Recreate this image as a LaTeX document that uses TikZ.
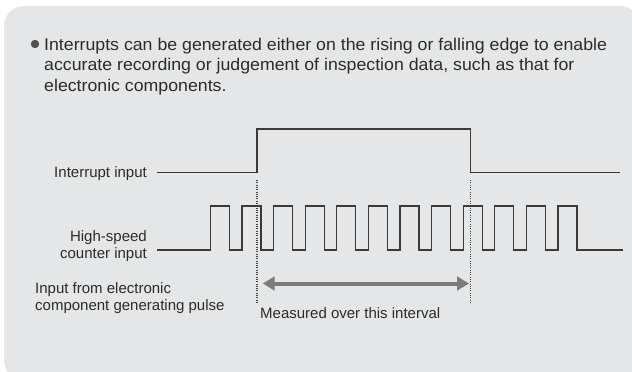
\documentclass[tikz,border=0pt]{standalone}
\usepackage{fontspec}
\setmainfont{Liberation Sans}
\usetikzlibrary{arrows.meta}
\definecolor{bgc}{HTML}{E5E6E7}
\definecolor{linec}{HTML}{3A3A3A}
\definecolor{txtc}{HTML}{2B2B2B}
\definecolor{arrc}{HTML}{7B7B7B}
\definecolor{bulc}{HTML}{505050}
\definecolor{dotc}{HTML}{444444}
\begin{document}
\begin{tikzpicture}[x=1pt,y=-1pt,
  bigtxt/.style={inner sep=0pt, font=\fontsize{17}{20}\selectfont, text=txtc, xscale=1.043},
  lbl/.style={inner sep=0pt, font=\fontsize{15}{17}\selectfont, text=txtc},
  sig/.style={draw=linec, line width=1.2pt},
  dotline/.style={draw=dotc, line width=1.2pt, dash pattern=on 1pt off 1.3pt},
  meas/.style={draw=arrc, line width=4pt, {Triangle[length=12pt,width=13.5pt]}-{Triangle[length=12pt,width=13.5pt]}}]
\useasboundingbox (0,0) rectangle (632,372);
\begin{scope}
\clip (0,0) rectangle (632,372);
\fill[bgc, rounded corners=20pt] (4,6) rectangle (640,380);
\end{scope}
% bullet text
\fill[bulc] (35,44) circle (4.2pt);
\node[bigtxt, anchor=base west] (l1) at (44,50) {Interrupts can be generated either on the rising or falling edge to enable};
\node[bigtxt, anchor=base west] (l2) at (44,70.7) {accurate recording or judgement of inspection data, such as that for};
\node[bigtxt, anchor=base west] (l3) at (44,91.7) {electronic components.};
% labels
\node[lbl, anchor=base east] (ii) at (147,177.3) {Interrupt input};
\node[lbl, anchor=base east] (hs1) at (147,241.7) {High-speed};
\node[lbl, anchor=base east] (hs2) at (147,258.3) {counter input};
\node[lbl, anchor=base west] (ie1) at (35,293.3) {Input from electronic};
\node[lbl, anchor=base west] (ie2) at (35,310) {component generating pulse};
\node[lbl, anchor=base west] (mo) at (260,318.3) {Measured over this interval};
% interrupt signal
\draw[sig] (157,172.7) -- (257,172.7) -- (257,129) -- (470.5,129) -- (470.5,172.7) -- (620,172.7);
% counter signal
\draw[sig] (157,250) \foreach \k in {0,...,11}{ -- ({210.3+31.6*\k},250) -- ({210.3+31.6*\k},206) -- ({229.3+31.6*\k},206) -- ({229.3+31.6*\k},250)} -- (623,250);
% dotted markers
\coordinate (d1t) at (257,180);
\coordinate (d1b) at (257,303);
\coordinate (d2t) at (470.5,180);
\coordinate (d2b) at (470.5,302);
\draw[dotline] (d1t) -- (d1b);
\draw[dotline] (d2t) -- (d2b);
% measurement arrow
\coordinate (a1) at (262.7,283.5);
\coordinate (a2) at (469,283.5);
\draw[meas] (a1) -- (a2);
\end{tikzpicture}
\end{document}
